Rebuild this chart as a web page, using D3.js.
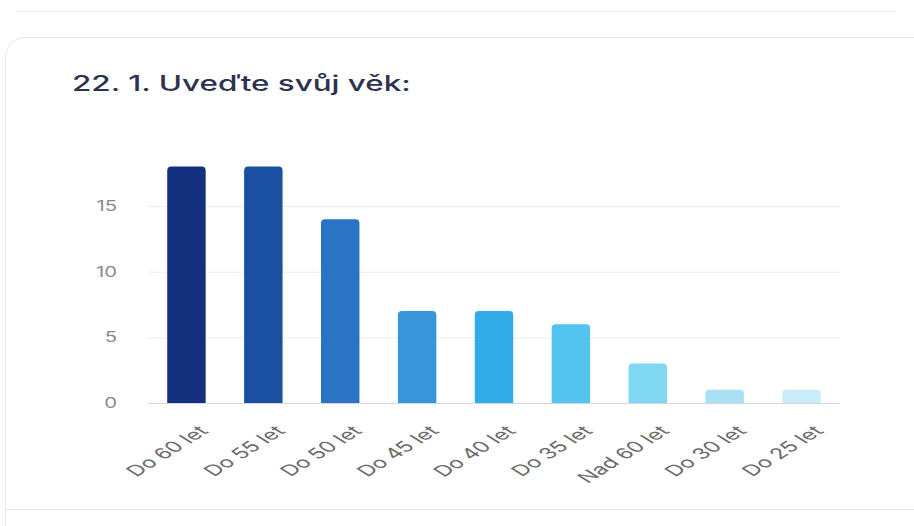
<!DOCTYPE html>
<html>
<head>
<meta charset="utf-8">
<script src="https://cdn.jsdelivr.net/npm/d3@7"></script>
<style>
	html, body { margin: 0; padding: 0; background: #fff; }
	svg { display: block; font-family: Inter, "Open Sans", sans-serif; }
</style>
</head>
<body>
<div id="chart"></div>
<script>
const WIDTH = 914;
const HEIGHT = 526;
// the screenshot is stretched sideways, so text gets the same stretch
const STRETCH = 1.4;
const LABEL_STRETCH = 1.6;

const categories = ['Do 60 let', 'Do 55 let', 'Do 50 let', 'Do 45 let', 'Do 40 let', 'Do 35 let', 'Nad 60 let', 'Do 30 let', 'Do 25 let'];
const counts = [18, 18, 14, 7, 7, 6, 3, 1, 1];
const barColors = ['#13307f', '#1b4fa1', '#2b74c5', '#3795dc', '#33abe9', '#53c4ef', '#80d7f2', '#a8e0f4', '#c8ecf8'];
const yTicks = [0, 5, 10, 15];
const title = '22. 1. Uveďte svůj věk:';

const svg = d3.select('#chart').append('svg')
	.attr('width', WIDTH)
	.attr('height', HEIGHT);

// page decorations: divider above, card outline, divider below
svg.append('line')
	.attr('x1', 18).attr('x2', 895).attr('y1', 11.5).attr('y2', 11.5)
	.attr('stroke', '#ececec');
svg.append('rect')
	.attr('x', 5.5).attr('y', 37.5).attr('width', 930).attr('height', 540)
	.attr('rx', 20)
	.attr('fill', '#fff').attr('stroke', '#e6e6e6');
svg.append('line')
	.attr('x1', 6).attr('x2', WIDTH).attr('y1', 509.5).attr('y2', 509.5)
	.attr('stroke', '#e6e6e6');

svg.append('text')
	.attr('transform', 'translate(72,91) scale(1.46,1)')
	.attr('font-size', 21.5)
	.attr('font-weight', 500)
	.attr('fill', '#2e3150')
	.text(title);

const x = d3.scaleBand()
	.domain(categories)
	.range([148, 840])
	.paddingInner(0.5)
	.paddingOuter(0.25);

const y = d3.scaleLinear()
	.domain([0, 15])
	.range([403, 206]);

// gridlines + y labels
const yAxis = svg.append('g')
	.attr('transform', 'translate(148,0)')
	.call(d3.axisLeft(y).tickValues(yTicks).tickSize(-(840 - 148)));
yAxis.select('.domain').remove();
yAxis.selectAll('.tick line').attr('stroke', (d) => d === 0 ? '#d6d6e0' : '#ececf0');
yAxis.selectAll('.tick text')
	.attr('x', 0)
	.attr('transform', 'translate(-31,0) scale(' + STRETCH + ',1)')
	.attr('font-size', 14.5)
	.attr('fill', '#8a8a8a')
	.attr('font-family', 'Inter, sans-serif');

// bars with rounded tops
const r = 4;
svg.append('g').selectAll('path')
	.data(counts)
	.enter()
	.append('path')
		.attr('fill', (d, i) => barColors[i])
		.attr('d', (d, i) => {
			const x0 = x(categories[i]);
			const w = x.bandwidth();
			const top = y(d);
			const bottom = y(0);
			return 'M' + x0 + ',' + bottom
				+ 'V' + (top + r)
				+ 'Q' + x0 + ',' + top + ' ' + (x0 + r) + ',' + top
				+ 'H' + (x0 + w - r)
				+ 'Q' + (x0 + w) + ',' + top + ' ' + (x0 + w) + ',' + (top + r)
				+ 'V' + bottom + 'Z';
		});

// rotated category labels
const xAxis = svg.append('g')
	.attr('transform', 'translate(0,' + y(0) + ')')
	.call(d3.axisBottom(x).tickSize(0));
xAxis.select('.domain').remove();
xAxis.selectAll('.tick text')
	.attr('font-size', 15)
	.attr('fill', '#6a6a6a')
	.attr('font-family', 'Inter, sans-serif')
	.attr('text-anchor', 'end')
	.attr('dominant-baseline', 'hanging')
	.attr('y', 0)
	.attr('dy', 0)
	.attr('transform', 'translate(10,21) scale(' + LABEL_STRETCH + ',1) rotate(-45)');
</script>
</body>
</html>
